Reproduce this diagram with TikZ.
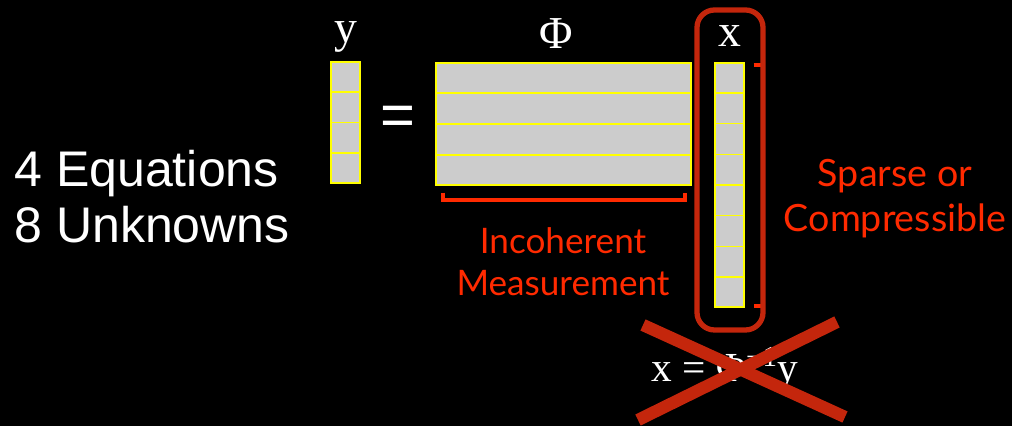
\documentclass[tikz,border=0pt]{standalone}
\usepackage{fontspec}
\setmainfont{Liberation Serif}
\newfontfamily\arialfont{Liberation Sans}
\newfontfamily\gillfont{Lato}
\usetikzlibrary{positioning,calc}
\definecolor{cellgray}{HTML}{CCCCCC}
\definecolor{cellline}{HTML}{FFFF00}
\definecolor{notered}{HTML}{FF2A00}
\definecolor{pencred}{HTML}{C4260C}

\begin{document}
\begin{tikzpicture}[
  x=0.02cm, y=-0.02cm,
  vec/.style={draw=cellline, fill=cellgray, line width=0.8pt, inner sep=0, minimum width=0.58cm},
  rowline/.style={draw=cellline, line width=0.8pt},
  brace/.style={draw=notered, line width=2.2pt},
  scrawl/.style={draw=pencred, line width=3pt},
  cross/.style={draw=pencred, line width=7pt},
  sym/.style={text=white, inner sep=0, font=\fontsize{26}{30}\selectfont},
  note/.style={text=notered, align=center, inner sep=0},
]

% background
\fill[black] (0,0) rectangle (1012,426);

% === y = PHI x ===
\node[vec, minimum height=2.42cm] (yvec) at (345.5,122.5) {};
\node[vec, minimum width=5.1cm, minimum height=2.44cm] (phimat) at (563.5,124) {};
\node[vec, minimum height=4.88cm] (xvec) at (729.5,185) {};

\foreach \i in {1,2,3} {
  \draw[rowline] ($(yvec.north west)!\i/4!(yvec.south west)$) -- ($(yvec.north east)!\i/4!(yvec.south east)$);
  \draw[rowline] ($(phimat.north west)!\i/4!(phimat.south west)$) -- ($(phimat.north east)!\i/4!(phimat.south east)$);
}
\foreach \i in {1,...,7}
  \draw[rowline] ($(xvec.north west)!\i/8!(xvec.south west)$) -- ($(xvec.north east)!\i/8!(xvec.south east)$);

\node[sym, above=0.18cm of yvec] (ylab) {y};
\node[sym, above=0.26cm of phimat, xshift=-0.15cm] (philab) {Φ};
\node[sym, above=0.3cm of xvec] (xlab) {x};
\node[text=white, inner sep=0, font=\arialfont\fontsize{34}{34}\selectfont] (eqsign) at (397.5,121) {=};

% === ANNOTATIONS ===
\draw[brace] ([shift={(8,7)}]phimat.south west) -- ++(0,7) -- ([shift={(-7,14)}]phimat.south east) -- ++(0,-7);
\draw[brace] ([shift={(9,3)}]xvec.north east) -- ++(9,0) -- ([shift={(18,-2)}]xvec.south east) -- ++(-9,0);

\node[note, font=\gillfont\fontsize{20}{23.8}\selectfont] (incoh) at (563,261.5) {Incoherent\\Measurement};
\node[note, font=\gillfont\fontsize{21.4}{25.5}\selectfont] (sparse) at (895,199) {Sparse or\\Compressible};

\node[anchor=west, inner sep=0, text=white, align=left, font=\arialfont\fontsize{28.5}{32.3}\selectfont] (count) at (14,196.5) {4 Equations\\8 Unknowns};

% circled x, crossed-out inverse
\draw[scrawl, rounded corners=0.35cm] (697,10) rectangle (763,330);
\node[text=white, inner sep=0, anchor=base, font=\fontsize{23.5}{23.5}\selectfont] (inverse) at (725,382) {x = Φ\textsuperscript{−1}y};
\draw[cross] (643,325) -- (845,417);
\draw[cross] (837,322) -- (638,420);
\end{tikzpicture}
\end{document}
